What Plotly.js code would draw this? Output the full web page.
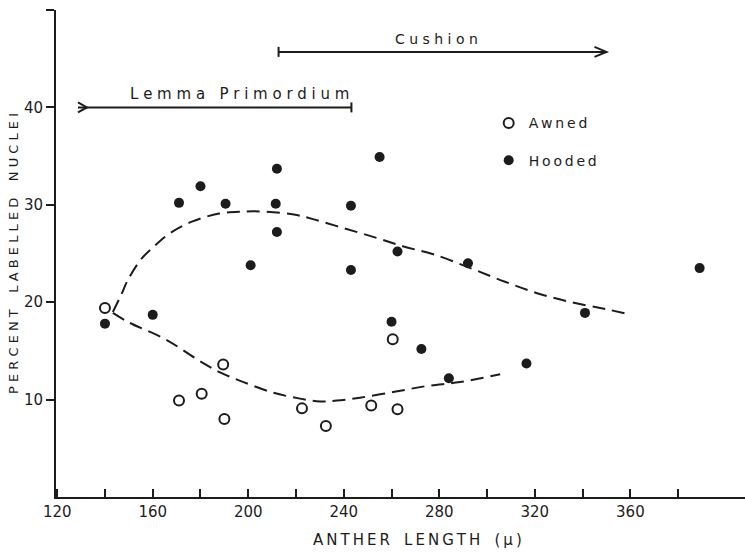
<!DOCTYPE html>
<html><head><meta charset="utf-8">
<script src="https://cdn.plot.ly/plotly-3.0.1.min.js"></script>
<style>html,body{margin:0;padding:0;background:#fff}#chart{width:745px;height:552px}</style>
</head><body><div id="chart"></div>
<script>
// ---- data ----
const awnedX  = [140, 171, 180.5, 189.5, 190, 222.5, 232.5, 251.5, 260.5, 262.5];
const awnedY  = [19.4, 9.9, 10.6, 13.6, 8.0, 9.1, 7.3, 9.4, 16.2, 9.0];

const hoodedX = [140, 160, 171, 180, 190.5, 201, 212, 211.5, 212, 243, 243, 255, 262.5, 260, 272.5, 284, 292, 316.5, 341, 389];
const hoodedY = [17.8, 18.7, 30.2, 31.9, 30.1, 23.8, 33.7, 30.1, 27.2, 29.9, 23.3, 34.9, 25.2, 18.0, 15.2, 12.2, 24.0, 13.7, 18.9, 23.5];

const hoodedCurveX = [143.3, 146.9, 149.4, 155.1, 160.4, 167.3, 176.7, 187.8, 197.1, 206.8, 219.1, 227.5, 240, 253.8, 265.4, 277.8, 293, 307.5, 321.3, 335.3, 349.6, 358.8];
const hoodedCurveY = [19.0, 20.8, 22.2, 24.4, 25.7, 27.1, 28.3, 29.1, 29.3, 29.3, 29.0, 28.5, 27.6, 26.6, 25.7, 24.9, 23.5, 22.1, 20.9, 20.0, 19.3, 18.8];

const awnedCurveX = [143.3, 150.2, 165.3, 178.8, 188.2, 198, 210.6, 221.7, 230.1, 237.1, 246.8, 261.2, 274.9, 288.7, 305.5];
const awnedCurveY = [18.9, 17.9, 16.2, 14.1, 12.8, 11.8, 10.7, 10.1, 9.8, 9.9, 10.2, 10.8, 11.4, 11.8, 12.6];

const stageNames  = ['Lemma Primordium', 'Cushion'];
const stageStart  = [128.7, 212.7];
const stageEnd    = [243.2, 350];
const stageLevel  = [40, 45.7];
const stageLabelX = [196.4, 279];
const stageStartCap = ['chevron', 'bar'];
const stageEndCap   = ['bar', 'arrow'];

const xTickVals = [120, 140, 160, 180, 200, 220, 240, 260, 280, 300, 320, 340, 360, 380];
const xTickText = ['120', '', '160', '', '200', '', '240', '', '280', '', '320', '', '360', ''];
const yTickVals = [10, 20, 30, 40, 50];
const yTickText = ['10', '20', '30', '40', ''];

const xTitle = 'ANTHER LENGTH (\u03BC)';
const yTitle = 'PERCENT LABELLED NUCLEI';
const seriesNames = ['Awned', 'Hooded'];

// ---- styling ----
const INK = '#1c1c1c';
const FONT = 'DejaVu Sans';
const NB = '\u00A0', TH = '\u2009';
function spaced(s, sep, wordSep) {
  return s.split(' ').map(w => w.split('').join(sep)).join(wordSep);
}

const X0 = 119.5, X1 = 408;
const pxPerX = 690 / (X1 - X0);
const pxPerY = 487 / 50;

const traces = [
  {x: hoodedCurveX, y: hoodedCurveY, mode: 'lines', line: {shape: 'spline', color: INK, width: 2, dash: '13px,7px'}, showlegend: false, hoverinfo: 'skip'},
  {x: awnedCurveX, y: awnedCurveY, mode: 'lines', line: {shape: 'spline', color: INK, width: 2, dash: '13px,7px'}, showlegend: false, hoverinfo: 'skip'},
  {x: awnedX, y: awnedY, mode: 'markers', name: spaced(seriesNames[0], TH, NB), legendgroup: 'a',
   marker: {symbol: 'circle-open', size: 10, color: INK, line: {width: 2, color: INK}}},
  {x: hoodedX, y: hoodedY, mode: 'markers', name: spaced(seriesNames[1], TH, NB), legendgroup: 'h',
   marker: {symbol: 'circle', size: 10, color: INK}}
];

const shapes = [];
const annotations = [];
const lineStyle = {color: INK, width: 2};
for (let i = 0; i < stageNames.length; i++) {
  const y = stageLevel[i], a = stageStart[i], b = stageEnd[i];
  shapes.push({type: 'line', xref: 'x', yref: 'y', x0: a, x1: b, y0: y, y1: y, line: lineStyle});
  const dy = 5 / pxPerY, dx = 10 / pxPerX;
  const cap = (kind, xpos) => {
    if (kind === 'bar') {
      shapes.push({type: 'line', xref: 'x', yref: 'y', x0: xpos, x1: xpos, y0: y - dy, y1: y + dy, line: lineStyle});
    } else if (kind === 'chevron') {
      shapes.push({type: 'path', xref: 'x', yref: 'y',
        path: `M ${xpos} ${y + dy} L ${xpos + dx * 0.9} ${y} L ${xpos} ${y - dy}`, line: lineStyle});
    } else if (kind === 'arrow') {
      shapes.push({type: 'path', xref: 'x', yref: 'y',
        path: `M ${xpos - dx * 1.2} ${y + dy} L ${xpos} ${y} L ${xpos - dx * 1.2} ${y - dy}`, line: lineStyle});
    }
  };
  cap(stageStartCap[i], a);
  cap(stageEndCap[i], b);
  annotations.push({x: stageLabelX[i], y: y, xref: 'x', yref: 'y', yshift: 13, showarrow: false,
    text: spaced(stageNames[i], NB, NB + NB + NB), font: {family: FONT, size: i === 0 ? 15 : 14, color: INK}});
}
// x-axis title, placed as in the original (slightly right of the plot centre)
annotations.push({x: 0.525, y: -0.088, xref: 'paper', yref: 'paper', xanchor: 'center', yanchor: 'middle', showarrow: false,
  text: spaced(xTitle, TH, NB + NB + NB), font: {family: FONT, size: 15, color: INK}});

const layout = {
  width: 745, height: 552,
  margin: {l: 56, r: 0, t: 10, b: 55},
  paper_bgcolor: '#fff', plot_bgcolor: '#fff',
  font: {family: FONT, color: INK},
  showlegend: true,
  legend: {x: 0.628, y: 0.80, xanchor: 'left', yanchor: 'top', traceorder: 'grouped', tracegroupgap: 16,
           font: {family: FONT, size: 14, color: INK}, bgcolor: 'rgba(0,0,0,0)', itemwidth: 30},
  xaxis: {
    range: [X0, X1], showgrid: false, zeroline: false, showline: true, linecolor: INK, linewidth: 2,
    ticks: 'inside', ticklen: 8, tickwidth: 2, tickcolor: INK,
    tickmode: 'array', tickvals: xTickVals, ticktext: xTickText,
    tickfont: {family: FONT, size: 15, color: INK},
    automargin: false
  },
  yaxis: {
    range: [0, 50], showgrid: false, zeroline: false, showline: true, linecolor: INK, linewidth: 2,
    ticks: 'outside', ticklen: 8, tickwidth: 2, tickcolor: INK,
    tickmode: 'array', tickvals: yTickVals, ticktext: yTickText,
    tickfont: {family: FONT, size: 15, color: INK},
    title: {text: spaced(yTitle, NB, NB + NB + NB + NB), font: {family: FONT, size: 13, color: INK}, standoff: 2},
    automargin: false
  },
  shapes: shapes,
  annotations: annotations
};

Plotly.newPlot('chart', traces, layout, {displayModeBar: false, staticPlot: true});
</script>
</body></html>
